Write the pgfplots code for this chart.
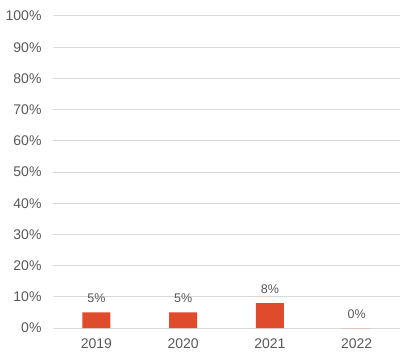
\documentclass[border=0pt]{standalone}
\usepackage{fontspec}
\setmainfont{Liberation Sans}
\usepackage{pgfplots}
\pgfplotsset{compat=1.18}
\definecolor{barc}{RGB}{222,76,44}
\definecolor{txtc}{RGB}{89,89,89}
\definecolor{gridc}{RGB}{217,217,217}
\begin{document}
\begin{tikzpicture}[x=1bp,y=1bp]
\useasboundingbox (-53bp,-35bp) rectangle (358bp,328bp);
\begin{axis}[
  at={(0,0)}, anchor=south west,
  scale only axis, width=347bp, height=312bp,
  xmin=-0.5, xmax=3.5, ymin=0, ymax=100,
  axis line style={draw=none},
  ytick={0,10,...,100},
  yticklabel={\pgfmathprintnumber{\tick}\%},
  xtick=data, xticklabels={2019,2020,2021,2022},
  major tick length=0pt,
  xmajorgrids=false, ymajorgrids=true,
  major grid style={draw=gridc, line width=1pt},
  /pgf/number format/assume math mode=true,
  tick label style={font=\fontsize{14bp}{16bp}\selectfont, text=txtc},
  yticklabel style={xshift=-8bp},
  xticklabel style={yshift=-7bp},
  nodes near coords={\pgfmathprintnumber{\pgfplotspointmeta}\%},
  every node near coord/.append style={font=\fontsize{12.5bp}{14bp}\selectfont, text=txtc, anchor=base, yshift=10bp, inner sep=0pt},
  clip=false,
]
\addplot[ybar, bar width=28bp, fill=barc, draw=none] coordinates {(0,5) (1,5) (2,8) (3,0)};
\end{axis}
\end{tikzpicture}
\end{document}
